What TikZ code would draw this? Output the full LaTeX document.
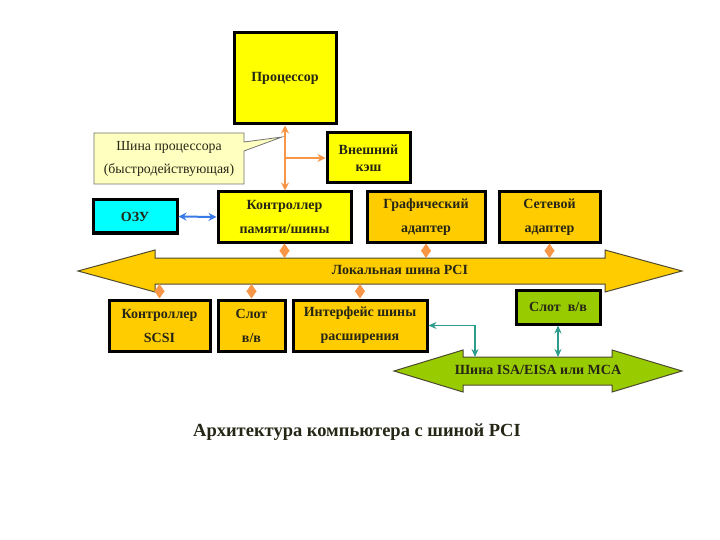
\documentclass[tikz,border=0pt]{standalone}
\usepackage{fontspec}
\setmainfont{Liberation Serif}
\usetikzlibrary{arrows.meta}
\definecolor{yel}{HTML}{FFFF00}
\definecolor{gold}{HTML}{FFCC00}
\definecolor{cyanbox}{HTML}{00FFFF}
\definecolor{grn}{HTML}{99CC00}
\definecolor{orng}{HTML}{F79646}
\definecolor{calloutfill}{HTML}{FFFFC0}
\definecolor{blu}{HTML}{3A7AE8}
\definecolor{tealc}{HTML}{2E9C8C}
\definecolor{txt}{HTML}{262616}
\begin{document}
\begin{tikzpicture}[x=1pt,y=-1pt,
  box/.style={draw=black, line width=3pt, inner sep=0pt, align=center,
    text=txt, font=\bfseries\fontsize{14}{24}\selectfont},
  busline/.style={draw=black!60!olive, line width=1pt},
  buslabel/.style={text=txt, font=\bfseries\fontsize{14}{16}\selectfont},
  dia/.style={draw=orng, fill=orng, line width=1pt,
    {Triangle[length=7.5pt,width=10pt]}-{Triangle[length=7.5pt,width=10pt]}},
  oline/.style={draw=orng, line width=2.2pt},
  otip/.style={Stealth[length=8pt,width=8pt]},
  blink/.style={draw=blu, line width=2pt,
    {Stealth[length=8pt,width=8pt]}-{Stealth[length=8pt,width=8pt]}},
  tlink/.style={draw=tealc, line width=1.8pt,
    {Stealth[length=8pt,width=7pt]}-{Stealth[length=8pt,width=7pt]}}
]
\useasboundingbox (0,0) rectangle (720,540);

% boxes
\node[box, fill=yel, minimum width=102pt, minimum height=91pt] (proc) at (285,78.5) {Процессор};
\node[box, fill=yel, minimum width=83pt, minimum height=50pt,
  font=\bfseries\fontsize{14}{17}\selectfont] (cache) at (368.5,158) {Внешний\\кэш};
\node[box, fill=yel, minimum width=133pt, minimum height=50pt] (ctrl) at (284.5,217) {Контроллер\\памяти/шины};
\node[box, fill=cyanbox, minimum width=84pt, minimum height=33pt] (ram) at (135,216.5) {ОЗУ};
\node[box, fill=gold, minimum width=118pt, minimum height=50pt] (gfx) at (426,217) {Графический\\адаптер};
\node[box, fill=gold, minimum width=101pt, minimum height=50pt] (net) at (549.5,217) {Сетевой\\адаптер};
\node[box, fill=gold, minimum width=101pt, minimum height=51pt] (scsi) at (159.5,325.5) {Контроллер\\SCSI};
\node[box, fill=gold, minimum width=67pt, minimum height=51pt] (slot) at (251.5,325.5) {Слот\\в/в};
\node[box, fill=gold, minimum width=134pt, minimum height=51pt] (iface) at (360,325.5) {Интерфейс шины\\расширения};
\node[box, fill=grn, minimum width=84pt, minimum height=34pt] (gslot) at (558,307) {Слот\ \ в/в};

% callout
\draw[fill=calloutfill, draw=black!55, line width=0.8pt]
  (94,133) -- (244,133) -- (244,142) -- (282,137) -- (244,151) -- (244,184) -- (94,184) -- cycle;
\node[align=center, text=txt, font=\fontsize{13.8}{23}\selectfont] (cpubus) at (169,158.5)
  {Шина процессора\\(быстродействующая)};

% processor bus
\draw[oline, {Stealth[length=8pt,width=8pt]}-{Stealth[length=8pt,width=8pt]}]
  (proc.south) -- (proc.south |- ctrl.north);
\coordinate (br) at (proc.south |- cache.west);
\draw[oline, -{Stealth[length=8pt,width=8pt]}] (br) -- (cache.west);

% RAM link
\draw[blink] (ram.east) -- (ctrl.west);

% PCI bus
\draw[busline, fill=gold] (78,271) -- (155,250) -- (155,258) -- (605,258) -- (605,250) -- (682,271)
  -- (605,292) -- (605,284) -- (155,284) -- (155,292) -- cycle;
\node[buslabel] (pci) at (400,270) {Локальная шина PCI};
\coordinate (pciT) at (0,258);
\coordinate (pciB) at (0,284);

% ISA bus
\draw[busline, fill=grn] (394,371) -- (463,350) -- (463,357) -- (612,357) -- (612,350) -- (682,371)
  -- (612,392) -- (612,385) -- (463,385) -- (463,392) -- cycle;
\node[buslabel] (isa) at (538,370) {Шина ISA/EISA или MCA};
\coordinate (isaT) at (475,357);

% PCI connectors
\draw[dia] (ctrl.south) -- (ctrl.south |- pciT);
\draw[dia] (gfx.south) -- (gfx.south |- pciT);
\draw[dia] (net.south) -- (net.south |- pciT);
\draw[dia] (scsi.north) -- (scsi.north |- pciB);
\draw[dia] (slot.north) -- (slot.north |- pciB);
\draw[dia] (iface.north) -- (iface.north |- pciB);

% ISA connectors
\draw[tlink] (iface.east) -| (isaT);
\draw[tlink] (gslot.south) -- (gslot.south |- isaT);

% caption
\node[text=txt, font=\bfseries\fontsize{18.5}{20}\selectfont] (cap) at (357,432) {Архитектура компьютера с шиной PCI};
\end{tikzpicture}
\end{document}
